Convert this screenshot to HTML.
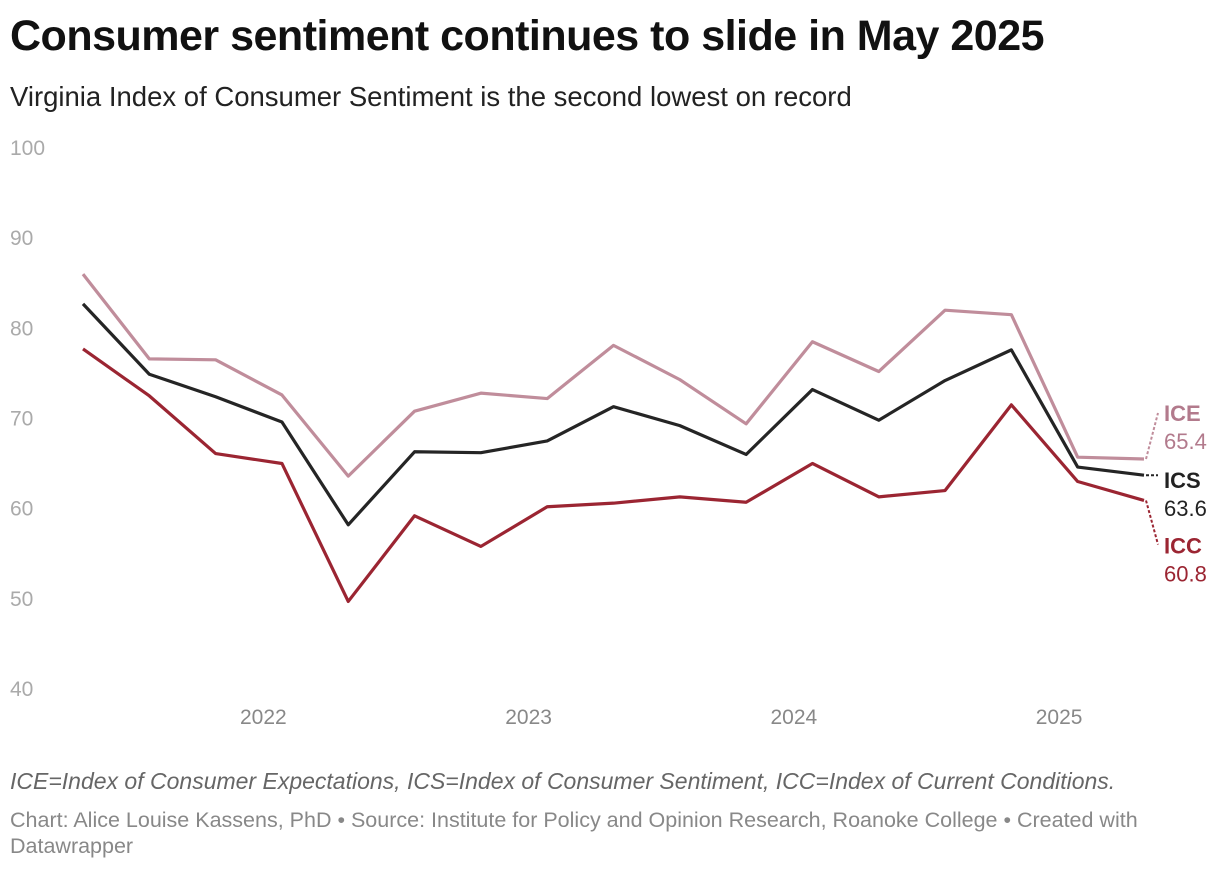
<!DOCTYPE html>
<html><head><meta charset="utf-8"><style>
body{margin:0;width:1220px;height:870px;background:#fff;font-family:"Liberation Sans",sans-serif;overflow:hidden;position:relative}
.t{position:absolute;white-space:nowrap}
</style></head><body>
<div class="t" style="left:10px;top:12px;font-size:43px;font-weight:bold;color:#111;letter-spacing:-0.5px">Consumer sentiment continues to slide in May 2025</div>
<div class="t" style="left:10px;top:81px;font-size:27.5px;color:#222">Virginia Index of Consumer Sentiment is the second lowest on record</div>
<svg id="chart" width="1220" height="870" style="position:absolute;left:0;top:0"></svg>
<div class="t" style="left:10px;top:768px;font-size:23px;font-style:italic;color:#666">ICE=Index of Consumer Expectations, ICS=Index of Consumer Sentiment, ICC=Index of Current Conditions.</div>
<div class="t" style="left:10px;top:807px;font-size:21.5px;color:#888;line-height:26px">Chart: Alice Louise Kassens, PhD • Source: Institute for Policy and Opinion Research, Roanoke College • Created with<br>Datawrapper</div>
<script>
const months=[2021.37,2021.62,2021.87,2022.12,2022.37,2022.62,2022.87,2023.12,2023.37,2023.62,2023.87,2024.12,2024.37,2024.62,2024.87,2025.12,2025.37];
const ice=[85.9,76.5,76.4,72.5,63.5,70.7,72.7,72.1,78.0,74.2,69.3,78.4,75.1,81.9,81.4,65.6,65.4];
const ics=[82.6,74.8,72.3,69.5,58.1,66.2,66.1,67.4,71.2,69.1,65.9,73.1,69.7,74.1,77.5,64.5,63.6];
const icc=[77.6,72.4,66.0,64.9,49.6,59.1,55.7,60.1,60.5,61.2,60.6,64.9,61.2,61.9,71.4,62.9,60.8];
const yTicks=[40,50,60,70,80,90,100];
const xTicks=[2022,2023,2024,2025];
const NS="http://www.w3.org/2000/svg";
const svg=document.getElementById('chart');
const x=v=>83+(v-2021.37)*(1144-83)/(2025.37-2021.37);
const y=v=>688-(v-40)*(688-147)/60;
function el(t,a){const e=document.createElementNS(NS,t);for(const k in a)e.setAttribute(k,a[k]);svg.appendChild(e);return e;}
yTicks.forEach(v=>{const t=el('text',{x:10,y:y(v)+8,'font-size':21,fill:'#aaa'});t.textContent=v;

});
xTicks.forEach(v=>{const t=el('text',{x:x(v+0.05),y:724,'font-size':21,fill:'#888','text-anchor':'middle'});t.textContent=v;

});
const series=[['ice',ice,'#c08d9b','ICE','#b27a8c',-38],['ics',ics,'#252525','ICS','#222',13],['icc',icc,'#9b2532','ICC','#9b2532',53]];
series.forEach(([n,d,c,lab,lc,off])=>{
const p=el('polyline',{points:d.map((v,i)=>x(months[i])+','+y(v)).join(' '),fill:'none',stroke:c,'stroke-width':3.2,'stroke-linejoin':'round'});


const ly=y(d[d.length-1]);
const ey=off<0?ly-46:off>40?ly+44:ly;
const ln=el('line',{x1:1146,y1:ly,x2:1158,y2:ey,stroke:c,'stroke-width':2,'stroke-dasharray':'3,2'});


const t1=el('text',{x:1164,y:ly+off,'font-size':22,'font-weight':'bold',fill:lc});t1.textContent=lab;


const t2=el('text',{x:1164,y:ly+off+28,'font-size':22,fill:lc});t2.textContent=d[d.length-1].toFixed(1);


});
</script>
</body></html>
